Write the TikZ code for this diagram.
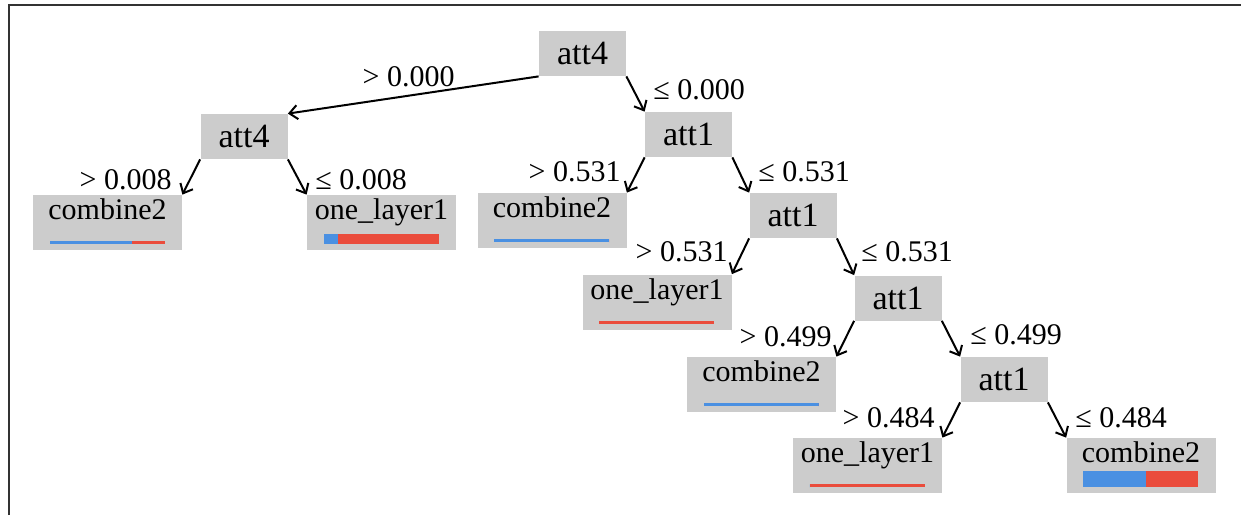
\documentclass[tikz,border=0pt]{standalone}
\usepackage{fontspec}
\setmainfont{LiberationSerif}[Extension=.ttf, UprightFont=*-Regular, BoldFont=*-Bold]
\usetikzlibrary{arrows.meta,calc}
\definecolor{nodegray}{RGB}{204,204,204}
\definecolor{barblue}{RGB}{74,144,226}
\definecolor{barred}{RGB}{234,76,60}
\newcommand\leafbar[4]{%
  \fill[barblue] ($(#1.south west)+(17,-6)$) rectangle ($(#1.south west)+(17+#2,-6-#3)$);
  \fill[barred] ($(#1.south west)+(17+#2,-6)$) rectangle ($(#1.south west)+(132,-6-#3)$);
  \node[leaftext] at ($(#1.north)+(0,25)$) {#4};}
\begin{document}
\begin{tikzpicture}[x=0.5pt,y=-0.5pt,
  split/.style={fill=nodegray, minimum width=43.5pt, minimum height=22.5pt, inner sep=0pt, font=\rmfamily\fontsize{17}{17}\selectfont},
  leaf/.style={fill=nodegray, minimum width=74.5pt, minimum height=27.5pt, inner sep=0pt},
  leaftext/.style={anchor=base, inner sep=0pt, font=\rmfamily\fontsize{15}{15}\selectfont},
  cond/.style={inner sep=0pt, font=\rmfamily\fontsize{15}{15}\selectfont},
  edge/.style={line width=1pt, -{Straight Barb[length=4pt,width=7pt]}}]
\useasboundingbox (0,0) rectangle (1241,515);
\draw[line width=1pt, black!80] (8.5,515) -- (8.5,4.5) -- (1241,4.5);
% split nodes
\node[split] (R)   at (582.5,53.5)  {att4};
\node[split] (A4L) at (244,136.5)   {att4};
\node[split] (A1a) at (688.5,134.5) {att1};
\node[split] (A1b) at (793,215.5)   {att1};
\node[split] (A1c) at (898,298)     {att1};
\node[split] (A1d) at (1004,379.5)  {att1};
% leaves
\node[leaf] (C2a)  at (107.5,222.5) {};
\node[leaf] (OL1a) at (381.5,222.5) {};
\node[leaf] (C2b)  at (552,220.5)   {};
\node[leaf] (OL1b) at (657,302)     {};
\node[leaf] (C2c)  at (761.5,384.5) {};
\node[leaf] (OL1c) at (867.5,465.5) {};
\node[leaf] (C2d)  at (1141,465.5)  {};
\leafbar{C2a}{82}{3}{combine2}
\leafbar{OL1a}{14}{10}{one\_layer1}
\leafbar{C2b}{115}{3}{combine2}
\leafbar{OL1b}{0}{3}{one\_layer1}
\leafbar{C2c}{115}{3}{combine2}
\leafbar{OL1c}{0}{3}{one\_layer1}
\leafbar{C2d}{63}{16}{combine2}
% edges
\draw[edge] (R.south west) -- (A4L.north east);
\draw[edge] (R.south east) -- (A1a.north west);
\draw[edge] (A4L.south west) -- (C2a.north east);
\draw[edge] (A4L.south east) -- (OL1a.north west);
\draw[edge] (A1a.south west) -- (C2b.north east);
\draw[edge] (A1a.south east) -- (A1b.north west);
\draw[edge] (A1b.south west) -- (OL1b.north east);
\draw[edge] (A1b.south east) -- (A1c.north west);
\draw[edge] (A1c.south west) -- (C2c.north east);
\draw[edge] (A1c.south east) -- (A1d.north west);
\draw[edge] (A1d.south west) -- (OL1c.north east);
\draw[edge] (A1d.south east) -- (C2d.north west);
% conditions
\node[cond, anchor=base east] (g000) at (455,86)  {> 0.000};
\node[cond, anchor=base west] (l000) at (653,99)  {≤ 0.000};
\node[cond, anchor=base east] (g008) at (172,189) {> 0.008};
\node[cond, anchor=base west] (l008) at (315,189) {≤ 0.008};
\node[cond, anchor=base east] (g531a) at (621,181) {> 0.531};
\node[cond, anchor=base west] (l531a) at (758,181) {≤ 0.531};
\node[cond, anchor=base east] (g531b) at (728,261) {> 0.531};
\node[cond, anchor=base west] (l531b) at (861,261) {≤ 0.531};
\node[cond, anchor=base east] (g499) at (832,346) {> 0.499};
\node[cond, anchor=base west] (l499) at (970,344) {≤ 0.499};
\node[cond, anchor=base east] (g484) at (935,427) {> 0.484};
\node[cond, anchor=base west] (l484) at (1075,427) {≤ 0.484};
\end{tikzpicture}
\end{document}
